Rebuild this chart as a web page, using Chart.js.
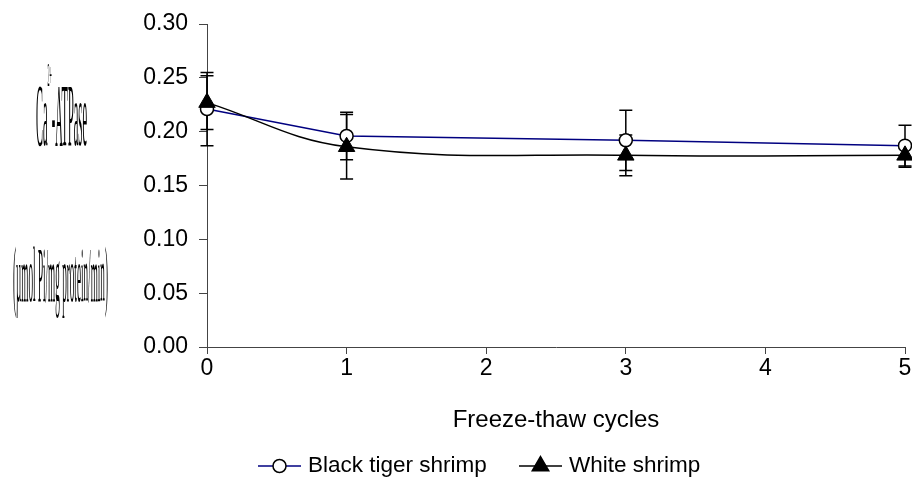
<!DOCTYPE html>
<html><head><meta charset="utf-8">
<script src="https://cdn.jsdelivr.net/npm/chart.js@4/dist/chart.umd.min.js"></script>
<style>html,body{margin:0;padding:0;background:#fff}#wrap{width:912px;height:480px}</style>
</head><body><div id="wrap"><canvas id="c" width="912" height="480"></canvas></div>
<script>
// ---- data ----
const cycles = [0, 1, 3, 5];
const blackTiger = [0.221, 0.196, 0.192, 0.187];
const blackTigerErr = [0.034, 0.022, 0.028, 0.019];
const whiteShrimp = [0.227, 0.186, 0.178, 0.178];
const whiteShrimpErr = [0.025, 0.030, 0.019, 0.011];
const yTicks = [0, 0.05, 0.10, 0.15, 0.20, 0.25, 0.30];
const xTicks = [0, 1, 2, 3, 4, 5];
const seriesNames = ['Black tiger shrimp', 'White shrimp'];
const xTitle = 'Freeze-thaw cycles';
const yTitleTop = ['Ca', '2+', '-ATPase'];
const yTitleBottom = '(µmol Pi/mg protein/min)';

const SANS = '"Liberation Sans", Arial, sans-serif';
const SERIF = '"Liberation Serif", "Times New Roman", serif';
const AXIS = '#444';

const errorBars = {
  id: 'errorBars',
  beforeDatasetsDraw(chart) {
    const ctx = chart.ctx, ys = chart.scales.y;
    const errs = [blackTigerErr, whiteShrimpErr];
    const vals = [blackTiger, whiteShrimp];
    ctx.save();
    ctx.strokeStyle = '#000';
    ctx.lineWidth = 1.5;
    chart.data.datasets.forEach((ds, di) => {
      const meta = chart.getDatasetMeta(di);
      meta.data.forEach((pt, i) => {
        const x = pt.x;
        const yt = ys.getPixelForValue(vals[di][i] + errs[di][i]);
        const yb = ys.getPixelForValue(vals[di][i] - errs[di][i]);
        ctx.beginPath();
        ctx.moveTo(x, yt); ctx.lineTo(x, yb);
        ctx.moveTo(x - 6.5, yt); ctx.lineTo(x + 6.5, yt);
        ctx.moveTo(x - 6.5, yb); ctx.lineTo(x + 6.5, yb);
        ctx.stroke();
      });
    });
    ctx.restore();
  }
};

function drawMarker(ctx, style, x, y) {
  ctx.save();
  ctx.strokeStyle = '#000';
  ctx.lineWidth = 1.5;
  ctx.beginPath();
  if (style === 'circle') {
    ctx.fillStyle = '#fff';
    ctx.arc(x, y, 6.5, 0, Math.PI * 2);
    ctx.fill(); ctx.stroke();
  } else {
    const r = 9.5;
    ctx.fillStyle = '#000';
    ctx.moveTo(x, y - r);
    ctx.lineTo(x + r * 0.866, y + r * 0.5);
    ctx.lineTo(x - r * 0.866, y + r * 0.5);
    ctx.closePath();
    ctx.fill(); ctx.stroke();
  }
  ctx.restore();
}

const extras = {
  id: 'extras',
  afterDraw(chart) {
    const ctx = chart.ctx;
    ctx.save();
    ctx.fillStyle = '#000';
    ctx.textAlign = 'left';
    ctx.textBaseline = 'alphabetic';
    // y title part 1 (squeezed)
    const big = '88px ' + SERIF, sup = '34px ' + SERIF;
    ctx.font = big; const w1 = ctx.measureText(yTitleTop[0]).width;
    ctx.font = sup; const w2 = ctx.measureText(yTitleTop[1]).width;
    ctx.font = big; const w3 = ctx.measureText(yTitleTop[2]).width;
    let sx = 51 / (w1 + w2 + w3);
    ctx.save();
    ctx.translate(36, 0); ctx.scale(sx, 1);
    ctx.font = big; ctx.fillText(yTitleTop[0], 0, 145);
    ctx.font = sup; ctx.fillText(yTitleTop[1], w1, 86);
    ctx.font = big; ctx.fillText(yTitleTop[2], w1 + w2, 145);
    ctx.restore();
    // y title part 2
    const f2 = '78px ' + SERIF;
    ctx.font = f2;
    const w4 = ctx.measureText(yTitleBottom).width;
    sx = 95 / w4;
    ctx.save();
    ctx.translate(13, 0); ctx.scale(sx, 1);
    ctx.fillText(yTitleBottom, 0, 301);
    ctx.restore();

    // legend
    const styles = ['circle', 'triangle'];
    const colors = ['#000080', '#000'];
    const starts = [258, 519];
    ctx.font = '22.5px ' + SANS;
    ctx.textBaseline = 'middle';
    const y = 466;
    seriesNames.forEach((name, i) => {
      const x = starts[i];
      ctx.strokeStyle = colors[i];
      ctx.lineWidth = 1.5;
      ctx.beginPath(); ctx.moveTo(x, y); ctx.lineTo(x + 43, y); ctx.stroke();
      drawMarker(ctx, styles[i], x + 21.5, y);
      ctx.fillStyle = '#000';
      ctx.fillText(name, x + 50, y);
    });
    ctx.restore();
  }
};

new Chart(document.getElementById('c'), {
  type: 'line',
  data: {
    datasets: [
      {
        label: seriesNames[0],
        data: cycles.map((c, i) => ({ x: c, y: blackTiger[i] })),
        borderColor: '#000080', borderWidth: 1.5,
        pointStyle: 'circle', pointRadius: 6.5,
        pointBackgroundColor: '#fff', pointBorderColor: '#000', pointBorderWidth: 1.5,
        tension: 0, order: 2, clip: false
      },
      {
        label: seriesNames[1],
        data: cycles.map((c, i) => ({ x: c, y: whiteShrimp[i] })),
        borderColor: '#000', borderWidth: 1.5,
        pointStyle: 'triangle', pointRadius: 9.5,
        pointBackgroundColor: '#000', pointBorderColor: '#000', pointBorderWidth: 1,
        tension: 0.4, order: 1, clip: false
      }
    ]
  },
  options: {
    responsive: false, animation: false, devicePixelRatio: 1,
    layout: { autoPadding: false, padding: { top: 24, right: 7, left: 0, bottom: 0 } },
    plugins: { legend: { display: false }, tooltip: { enabled: false } },
    scales: {
      x: {
        type: 'linear', min: xTicks[0], max: xTicks[xTicks.length - 1],
        afterBuildTicks: s => { s.ticks = xTicks.map(v => ({ value: v })); },
        afterFit: s => { s.height = 133; s.paddingLeft = 0; s.paddingRight = 0; },
        ticks: { color: '#000', font: { family: SANS, size: 23 }, padding: 1, maxRotation: 0,
                 callback: v => String(v) },
        grid: { display: true, drawOnChartArea: false, drawTicks: true, tickLength: 7, color: AXIS },
        border: { display: true, color: AXIS, width: 1 },
        title: { display: true, text: xTitle, color: '#000', font: { family: SANS, size: 24 },
                 padding: { top: 0, bottom: 45 } }
      },
      y: {
        min: 0, max: 0.3,
        afterBuildTicks: s => { s.ticks = yTicks.map(v => ({ value: v })); },
        afterFit: s => { s.width = 207; s.paddingTop = 0; s.paddingBottom = 0; },
        ticks: { color: '#000', font: { family: SANS, size: 23 }, padding: 11,
                 callback: v => v.toFixed(2) },
        grid: { display: true, drawOnChartArea: false, drawTicks: true, tickLength: 8, color: AXIS },
        border: { display: true, color: AXIS, width: 1 }
      }
    }
  },
  plugins: [errorBars, extras]
});
</script></body></html>
